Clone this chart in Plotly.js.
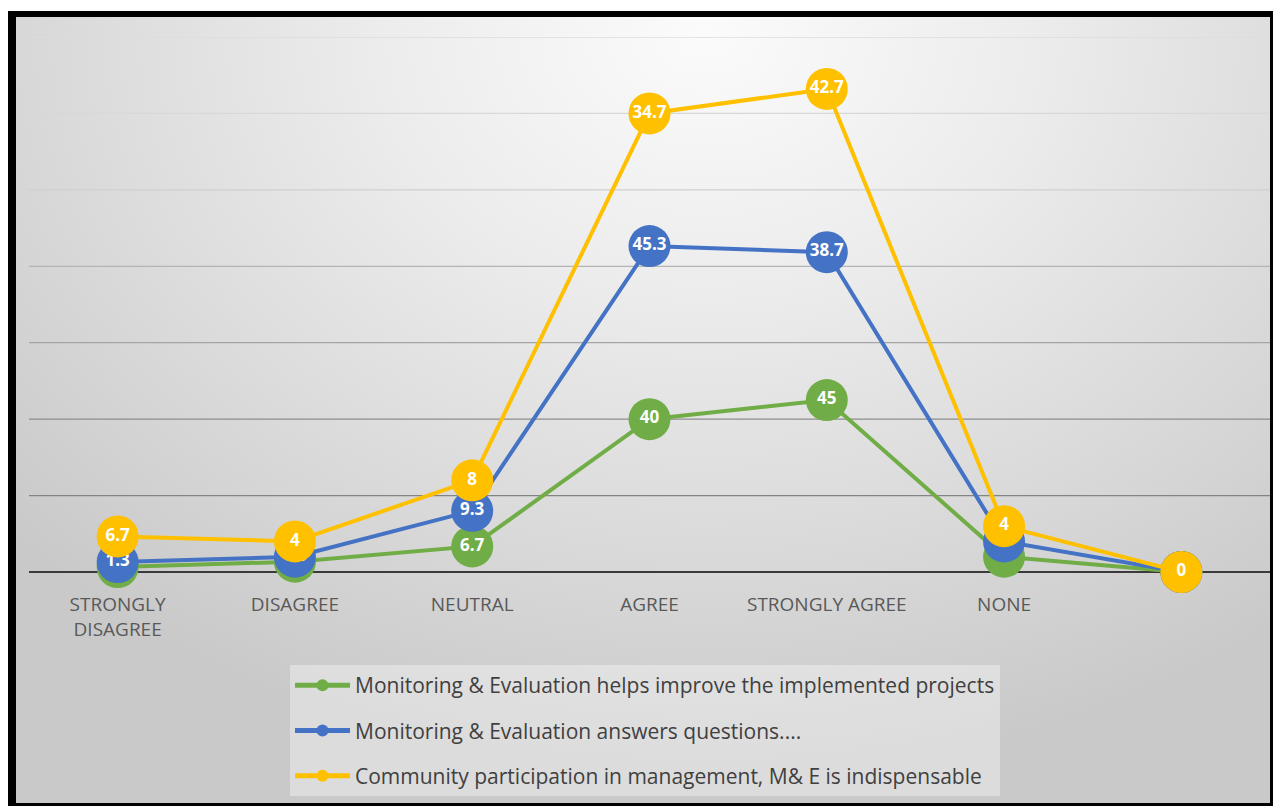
<!DOCTYPE html>
<html>
<head>
<meta charset="utf-8">
<script src="https://cdn.plot.ly/plotly-3.0.1.min.js"></script>
<style>
  html, body { margin: 0; padding: 0; background: #ffffff; width: 1273px; height: 806px; overflow: hidden; }
  #frame {
    position: absolute; left: 8px; top: 11px; width: 1254px; height: 786px;
    border-left: 8px solid #000; border-top: 6px solid #000; border-right: 3px solid #000; border-bottom: 3px solid #000;
    background: radial-gradient(ellipse 75% 95% at 55% 2%, #fbfbfb 0%, #ececec 35%, #dcdcdc 65%, #c9c9c9 100%);
  }
  #chart { position: absolute; left: 0; top: 0; width: 1273px; height: 806px; }
</style>
</head>
<body>
<div id="frame"></div>
<div id="chart"></div>
<script>
// ---- data ----
const categories = ["STRONGLY<br>DISAGREE", "DISAGREE", "NEUTRAL", "AGREE", "STRONGLY AGREE", "NONE", ""];
const seriesNames = [
  "Monitoring & Evaluation helps improve the implemented projects",
  "Monitoring & Evaluation answers questions....",
  "Community participation in management, M& E is indispensable"
];
const improveProjects   = [1.3, 2.7, 6.7, 40, 45, 4, 0];
const answersQuestions  = [1.3, 1.3, 9.3, 45.3, 38.7, 4, 0];
const communityParticip = [6.7, 4, 8, 34.7, 42.7, 4, 0];
const gridValues = [20, 40, 60, 80, 100, 120, 140];

// ---- styles ----
const colors = ["#70AD47", "#4472C4", "#FFC000"];
const gridColors = ["#848484", "#8d8d8d", "#a4a4a4", "#b4b4b4", "#cfcfcf", "#d8d8d8", "#dcdcdc"];
const xIdx = categories.map((_, i) => i);
const allSeries = [improveProjects, answersQuestions, communityParticip];

const traces = allSeries.map((vals, k) => ({
  type: "scatter",
  x: xIdx,
  y: vals,
  name: seriesNames[k],
  stackgroup: "one",
  fill: "none",
  legendgroup: "g" + k,
  mode: "lines+markers+text",
  line: { color: colors[k], width: 4 },
  marker: { color: colors[k], size: 42 },
  text: vals.map(v => String(v)),
  textposition: "middle center",
  textfont: { color: "#ffffff", size: 17, family: "Open Sans", weight: "bold" },
  cliponaxis: false,
  hoverinfo: "skip"
}));

const shapes = gridValues.map((g, i) => ({
  type: "line", xref: "paper", x0: 0, x1: 1, yref: "y", y0: g, y1: g,
  line: { color: gridColors[i], width: 1.3 }, layer: "below"
}));

const layout = {
  width: 1273, height: 806,
  margin: { l: 29, r: 3, t: 37, b: 234 },
  paper_bgcolor: "rgba(0,0,0,0)",
  plot_bgcolor: "rgba(0,0,0,0)",
  font: { family: "Open Sans", color: "#595959" },
  showlegend: true,
  xaxis: {
    range: [-0.5, 6.5],
    tickvals: xIdx,
    ticktext: categories,
    showgrid: false, zeroline: false, showline: false,
    ticks: "", ticklabelstandoff: 19,
    tickfont: { size: 19, color: "#595959", family: "Open Sans" },
    fixedrange: true
  },
  yaxis: {
    range: [0, 140],
    showgrid: false, showticklabels: false, ticks: "",
    zeroline: true, zerolinecolor: "#3a3a3a", zerolinewidth: 2.5,
    showline: false, fixedrange: true
  },
  shapes: shapes,
  legend: {
    x: (290 - 29) / 1241, xanchor: "left",
    y: (572 - 665) / 535, yanchor: "top",
    xref: "paper", yref: "paper",
    orientation: "v",
    traceorder: "grouped",
    tracegroupgap: 15,
    itemsizing: "constant",
    itemwidth: 55,
    bgcolor: "rgba(255,255,255,0.35)",
    font: { size: 21, color: "#404040", family: "Open Sans" }
  }
};

Plotly.newPlot("chart", traces, layout, { displayModeBar: false, staticPlot: true });
</script>
</body>
</html>
